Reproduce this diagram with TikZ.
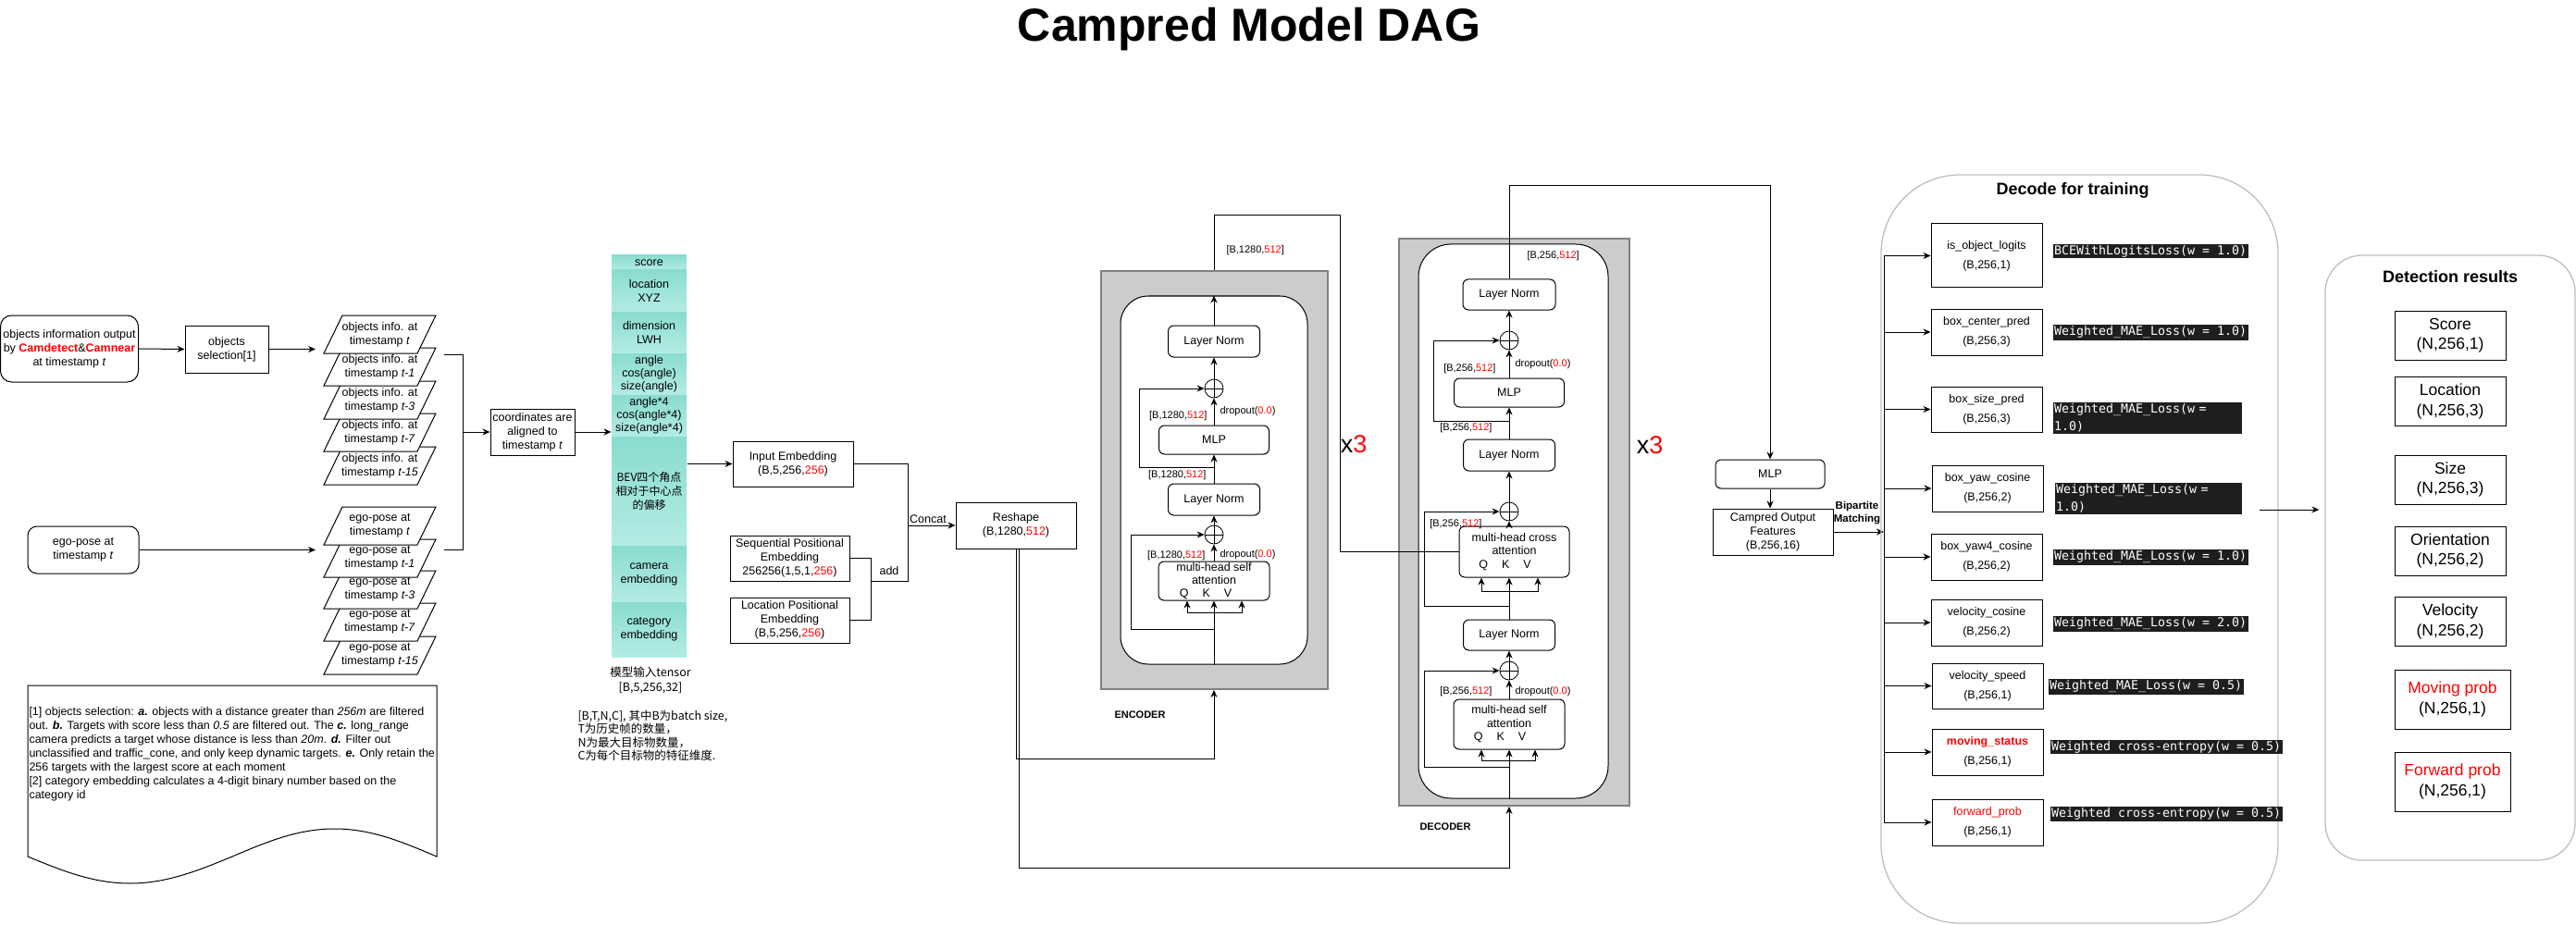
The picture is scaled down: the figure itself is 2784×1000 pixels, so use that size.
\documentclass[tikz,border=0pt]{standalone}
\usepackage{fontspec}
\setmainfont{Liberation Sans}
\newfontfamily\cjk{Noto Sans CJK SC}
\newfontfamily\lossfont{DejaVu Sans Mono}
\usetikzlibrary{arrows.meta}
\definecolor{tealtop}{RGB}{137,220,207}
\definecolor{tealbot}{RGB}{180,236,228}
\definecolor{stackgray}{RGB}{204,204,204}
\definecolor{stackedge}{RGB}{128,128,128}
\definecolor{grpedge}{RGB}{190,190,190}
\definecolor{lossbg}{RGB}{30,30,30}
\definecolor{hot}{RGB}{255,0,0}
\newcommand\fsz[2]{\fontsize{#1}{#2}\selectfont}
\newcommand\redt[1]{{\color{hot}#1}}
\begin{document}
\begin{tikzpicture}[x=1pt,y=-1pt,font=\fsz{12.5}{15},inner sep=1pt,line width=1pt,
  >={Stealth[length=8pt,width=7pt]},
  box/.style={draw,align=center},
  rbox/.style={draw,align=center,rounded corners=6pt},
  para/.style={draw,fill=white},
  ptext/.style={align=center},
  cell/.style={align=center,inner sep=0pt,minimum width=81,top color=tealtop,bottom color=tealbot},
  lbl/.style={inner sep=0pt,font=\fsz{11}{13}},
  sumnode/.style={draw,circle,minimum size=20,inner sep=0pt,fill=white,line width=0.8pt,
    path picture={\draw (path picture bounding box.north) -- (path picture bounding box.south)
      (path picture bounding box.west) -- (path picture bounding box.east);}},
  stackbg/.style={draw=stackedge,fill=stackgray,line width=1.8pt},
  stackbody/.style={draw,fill=white},
  grp/.style={draw=grpedge,line width=1.3pt},
  dbox/.style={draw,align=center,minimum width=120,font=\fsz{12.5}{21}},
  loss/.style={anchor=west,fill=lossbg,text=white,inner sep=1.5pt,font=\lossfont\fsz{13.3}{19}},
  res/.style={draw,align=center,minimum width=120,minimum height=53,font=\fsz{17.5}{21.5}}]
\useasboundingbox (0,0) rectangle (2784,1000);
\node (title) at (1350,32) [font=\bfseries\fsz{50}{56}] {Campred Model DAG};
\node (objinfo) at (75,377) [rbox,rounded corners=12pt,minimum width=149,minimum height=72] {objects information output\\by \textbf{\redt{Camdetect}}\&\textbf{\redt{Camnear}}\\at timestamp \textit{t}};
\node (objsel) at (245,377.5) [box,minimum width=90,minimum height=51] {objects\\selection[1]};
\node (egopose) at (90,594.5) [rbox,rounded corners=10pt,minimum width=120,minimum height=51] {ego-pose at\\timestamp \textit{t}};
\draw [para] (350,524) -- (370,483) -- (471,483) -- (451,524) -- cycle;
\node (obj15) at (410.5,503.5) [ptext] {objects info. at\\timestamp \textit{t-15}};
\draw [para] (350,488) -- (370,447) -- (471,447) -- (451,488) -- cycle;
\node (obj7) at (410.5,467.5) [ptext] {objects info. at\\timestamp \textit{t-7}};
\draw [para] (350,453) -- (370,412) -- (471,412) -- (451,453) -- cycle;
\node (obj3) at (410.5,432.5) [ptext] {objects info. at\\timestamp \textit{t-3}};
\draw [para] (350,417) -- (370,376) -- (471,376) -- (451,417) -- cycle;
\node (obj1) at (410.5,396.5) [ptext] {objects info. at\\timestamp \textit{t-1}};
\draw [para] (350,382) -- (370,341) -- (471,341) -- (451,382) -- cycle;
\node (obj0) at (410.5,361.5) [ptext] {objects info. at\\timestamp \textit{t}};
\draw [para] (350,729) -- (370,688) -- (471,688) -- (451,729) -- cycle;
\node (ego15) at (410.5,708.5) [ptext] {ego-pose at\\timestamp \textit{t-15}};
\draw [para] (350,693) -- (370,652) -- (471,652) -- (451,693) -- cycle;
\node (ego7) at (410.5,672.5) [ptext] {ego-pose at\\timestamp \textit{t-7}};
\draw [para] (350,658) -- (370,617) -- (471,617) -- (451,658) -- cycle;
\node (ego3) at (410.5,637.5) [ptext] {ego-pose at\\timestamp \textit{t-3}};
\draw [para] (350,624) -- (370,583) -- (471,583) -- (451,624) -- cycle;
\node (ego1) at (410.5,603.5) [ptext] {ego-pose at\\timestamp \textit{t-1}};
\draw [para] (350,589) -- (370,548) -- (471,548) -- (451,589) -- cycle;
\node (ego0) at (410.5,568.5) [ptext] {ego-pose at\\timestamp \textit{t}};
\coordinate (objin) at (341,377.5);
\coordinate (egoin) at (341,594.5);
\coordinate (objbr) at (480,383);
\coordinate (egobr) at (480,594);
\coordinate (brbot) at (500,594);
\draw [->] (objinfo.east) -- (objsel.west);
\draw [->] (objsel.east) -- (objin);
\draw [->] (egopose.east) -- (egoin);
\node (align) at (575.5,467) [box,minimum width=91,minimum height=50] {coordinates are\\aligned to\\timestamp \textit{t}};
\draw (objbr) -| (brbot) -- (egobr);
\draw [->] (brbot |- align.west) -- (align.west);
\node (tscore) at (701.5,284) [cell,minimum height=16] {score};
\node (tloc) at (701.5,314.5) [cell,minimum height=45] {location\\XYZ};
\node (tdim) at (701.5,359.5) [cell,minimum height=45] {dimension\\LWH};
\node (tang) at (701.5,404.5) [cell,minimum height=45,font=\fsz{12.5}{14}] {angle\\cos(angle)\\size(angle)};
\node (tang4) at (701.5,449.5) [cell,minimum height=45,font=\fsz{12.5}{14}] {angle*4\\cos(angle*4)\\size(angle*4)};
\node (tbev) at (701.5,531) [cell,minimum height=118,font=\cjk\fsz{12}{15}] {BEV四个角点\\相对于中心点\\的偏移};
\node (tcam) at (701.5,620.5) [cell,minimum height=61] {camera\\embedding};
\node (tcat) at (701.5,680.5) [cell,minimum height=59] {category\\embedding};
\node (tlabel) at (703,735) [align=center,font=\cjk\fsz{12.5}{16}] {模型输入tensor\\{[B,5,256,32]}};
\node (cnote) at (623,795.5) [anchor=west,align=left,font=\cjk\fsz{12.5}{14.5}] {[B,T,N,C], 其中B为batch size,\\T为历史帧的数量，\\N为最大目标物数量，\\C为每个目标物的特征维度.};
\draw [->] (align.east) -- (align.east -| tang4.west);
\draw (30,741) -- (472,741) -- (472,926) sin (361.5,896) cos (251,926) sin (140.5,955) cos (30,926) -- cycle;
\node (note) at (31,764) [anchor=north west,align=left,inner sep=0pt] {[1] objects selection: \textbf{\textit{a.}} objects with a distance greater than \textit{256m} are filtered\\out. \textbf{\textit{b.}} Targets with score less than \textit{0.5} are filtered out. The \textbf{\textit{c.}} long\_range\\camera predicts a target whose distance is less than \textit{20m}. \textbf{\textit{d.}} Filter out\\unclassified and traffic\_cone, and only keep dynamic targets. \textbf{\textit{e.}} Only retain the\\256 targets with the largest score at each moment\\{}[2] category embedding calculates a 4-digit binary number based on the\\category id};
\node (inemb) at (857,501.5) [box,minimum width=130,minimum height=49] {Input Embedding\\(B,5,256,\redt{256})};
\node (seqemb) at (853.5,603.5) [box,minimum width=129,minimum height=49] {Sequential Positional\\Embedding\\256256(1,5,1,\redt{256})};
\node (locemb) at (853.5,670.5) [box,minimum width=129,minimum height=49] {Location Positional\\Embedding\\(B,5,256,\redt{256})};
\node (reshape) at (1098,568) [box,minimum width=130,minimum height=50] {Reshape\\(B,1280,\redt{512})};
\coordinate (addj) at (941,628);
\coordinate (catj) at (981,628);
\draw [->] (inemb.west -| tbev.east) -- (inemb.west);
\draw (inemb.east) -| (catj) -- (addj);
\draw (seqemb.east) -| (addj) |- (locemb.east);
\draw [->] (catj |- reshape.west) -- (reshape.west);
\node (concat) at (1003,561) [inner sep=0pt] {Concat};
\node (add) at (961,617) [inner sep=0pt] {add};
\node (enc) at (1312.5,519) [stackbg,minimum width=245,minimum height=452] {};
\node (encbody) at (1312,519) [stackbody,rounded corners=30pt,minimum width=202,minimum height=398] {};
\node (eln2) at (1312,369) [rbox,minimum width=99,minimum height=34] {Layer Norm};
\node (eplus2) at (1312,420) [sumnode] {};
\node (emlp) at (1312,475.5) [rbox,minimum width=119,minimum height=31] {MLP};
\node (eln1) at (1312,540) [rbox,minimum width=99,minimum height=34] {Layer Norm};
\node (eplus1) at (1312,578) [sumnode] {};
\node (emhsa) at (1312,628) [rbox,minimum width=120,minimum height=42,font=\fsz{12.5}{14}] {multi-head self\\attention\\Q\hspace{15pt}K\hspace{15pt}V\hspace*{18pt}};
\node (enclbl) at (1232,773) [font=\bfseries\fsz{11}{13}] {ENCODER};
\node (encx) at (1463,480) [font=\fsz{27}{30}] {x\redt{3}};
\node (elbl1) at (1325,271) [lbl,anchor=west] {[B,1280,\redt{512}]};
\node (elbl2) at (1305,450) [lbl,anchor=east] {[B,1280,\redt{512}]};
\node (elbl3) at (1318,445) [lbl,anchor=west] {dropout(\redt{0.0})};
\node (elbl4) at (1304,514) [lbl,anchor=east] {[B,1280,\redt{512}]};
\node (elbl5) at (1303,601) [lbl,anchor=east] {[B,1280,\redt{512}]};
\node (elbl6) at (1318,600) [lbl,anchor=west] {dropout(\redt{0.0})};
\coordinate (encin) at (1312,820);
\coordinate (eq) at (1283,662);
\coordinate (ev) at (1342,662);
\coordinate (ej1) at (1312,680);
\coordinate (ej2) at (1312,505);
\coordinate (etop) at (1448,233);
\draw [->] (reshape.south) |- (encin) -- (encin |- enc.south);
\draw [->] (encin |- encbody.south) -- (encin |- emhsa.south);
\draw [->] (eq) -- (eq |- emhsa.south);
\draw [->] (eq) -- (ev) -- (ev |- emhsa.south);
\draw [->] (ej1) -- ++(-90,0) |- (eplus1.west);
\draw [->] (emhsa.north) -- (eplus1.south);
\draw [->] (eplus1.north) -- (eln1.south);
\draw [->] (eln1.north) -- (emlp.south);
\draw [->] (ej2) -- ++(-81,0) |- (eplus2.west);
\draw [->] (emlp.north) -- (eplus2.south);
\draw [->] (eplus2.north) -- (eln2.south);
\draw [->] (eln2.north) -- (eln2.north |- encbody.north);
\node (dec) at (1636.5,564.5) [stackbg,minimum width=249,minimum height=613] {};
\node (decbody) at (1635.5,563.5) [stackbody,rounded corners=35pt,minimum width=205,minimum height=599] {};
\node (dln3) at (1631,318.5) [rbox,minimum width=100,minimum height=33] {Layer Norm};
\node (dplus3) at (1631,368) [sumnode] {};
\node (dmlp) at (1631,424.5) [rbox,minimum width=119,minimum height=31] {MLP};
\node (dln2) at (1631,492) [rbox,minimum width=99,minimum height=34] {Layer Norm};
\node (dplus2) at (1631,553) [sumnode] {};
\node (dcross) at (1636.5,596.5) [rbox,minimum width=119,minimum height=55,font=\fsz{12.5}{14.5}] {multi-head cross\\attention\\Q\hspace{15pt}K\hspace{15pt}V\hspace*{20pt}};
\node (dln1) at (1631,686.5) [rbox,minimum width=99,minimum height=33] {Layer Norm};
\node (dplus1) at (1631,725) [sumnode] {};
\node (dmsa) at (1631,783) [rbox,minimum width=120,minimum height=54,font=\fsz{12.5}{14.5}] {multi-head self\\attention\\Q\hspace{15pt}K\hspace{15pt}V\hspace*{20pt}};
\node (declbl) at (1562,894) [font=\bfseries\fsz{11}{13}] {DECODER};
\node (decx) at (1783,481) [font=\fsz{27}{30}] {x\redt{3}};
\node (dlbl1) at (1650,277) [lbl,anchor=west] {[B,256,\redt{512}]};
\node (dlbl2) at (1617,399) [lbl,anchor=east] {[B,256,\redt{512}]};
\node (dlbl3) at (1637,394) [lbl,anchor=west] {dropout(\redt{0.0})};
\node (dlbl4) at (1613,463) [lbl,anchor=east] {[B,256,\redt{512}]};
\node (dlbl5) at (1602,567) [lbl,anchor=east] {[B,256,\redt{512}]};
\node (dlbl6) at (1613,748) [lbl,anchor=east] {[B,256,\redt{512}]};
\node (dlbl7) at (1637,748) [lbl,anchor=west] {dropout(\redt{0.0})};
\coordinate (decin) at (1631,938);
\coordinate (dq1) at (1601,822);
\coordinate (dv1) at (1659,822);
\coordinate (dj1) at (1631,829);
\coordinate (dq2) at (1601,639);
\coordinate (dv2) at (1662,639);
\coordinate (dj2) at (1631,655);
\coordinate (dj3) at (1631,455);
\coordinate (dtop) at (1913,201);
\draw [->] ([xshift=3pt]reshape.south) |- (decin) -- (decin |- dec.south);
\draw [->] (decin |- decbody.south) -- (decin |- dmsa.south);
\draw [->] (dq1) -- (dq1 |- dmsa.south);
\draw [->] (dq1) -- (dv1) -- (dv1 |- dmsa.south);
\draw [->] (dj1) -- ++(-92,0) |- (dplus1.west);
\draw [->] (dmsa.north) -- (dplus1.south);
\draw [->] (dplus1.north) -- (dln1.south);
\draw [->] (dln1.north) -- (dln1.north |- dcross.south);
\draw [->] (dq2) -- (dq2 |- dcross.south);
\draw [->] (dq2) -- (dv2) -- (dv2 |- dcross.south);
\draw [->] (dj2) -- ++(-92,0) |- (dplus2.west);
\draw [->] (dplus2 |- dcross.north) -- (dplus2.south);
\draw [->] (dplus2.north) -- (dln2.south);
\draw [->] (dln2.north) -- (dmlp.south);
\draw [->] (dj3) -- ++(-82,0) |- (dplus3.west);
\draw [->] (dmlp.north) -- (dplus3.south);
\draw [->] (dplus3.north) -- (dln3.south);
\draw (enc.north) |- (etop) |- (dcross.west);
\node (cmlp) at (1913,512.5) [rbox,minimum width=118,minimum height=31] {MLP};
\node (campout) at (1916,575) [box,minimum width=130,minimum height=50] {Campred Output\\Features\\(B,256,16)};
\node (bip) at (2007,554.5) [align=center,inner sep=0pt,font=\bfseries\fsz{11.5}{14}] {Bipartite\\Matching};
\coordinate (brx) at (2036,576);
\draw [->] (dln3.north) |- (dtop) -- (cmlp.north);
\draw [->] (cmlp.south) -- (cmlp.south |- campout.north);
\draw [->] (campout.east) -- (campout.east -| brx);
\node (dectrain) at (2247.5,593.5) [grp,rounded corners=85pt,minimum width=429,minimum height=809] {};
\node (dectitle) at (2240,206) [font=\bfseries\fsz{18}{20}] {Decode for training};
\node (isobj) at (2147,276.5) [dbox,minimum height=69] {is\_object\_logits\\(B,256,1)};
\node (boxc) at (2147,359) [dbox,minimum height=50] {box\_center\_pred\\(B,256,3)};
\node (boxs) at (2147,442.5) [dbox,minimum height=49] {box\_size\_pred\\(B,256,3)};
\node (yaw) at (2148,528) [dbox,minimum height=50] {box\_yaw\_cosine\\(B,256,2)};
\node (yaw4) at (2147,602) [dbox,minimum height=50] {box\_yaw4\_cosine\\(B,256,2)};
\node (velc) at (2147,673) [dbox,minimum height=50] {velocity\_cosine\\(B,256,2)};
\node (vels) at (2148,741.5) [dbox,minimum height=49] {velocity\_speed\\(B,256,1)};
\node (mov) at (2148,813) [dbox,minimum height=50] {\textbf{\redt{moving\_status}}\\(B,256,1)};
\node (fwd) at (2148,889) [dbox,minimum height=50] {\redt{forward\_prob}\\(B,256,1)};
\draw (isobj.west -| brx) -- (fwd.west -| brx);
\draw [->] (isobj.west -| brx) -- (isobj.west);
\draw [->] (boxc.west -| brx) -- (boxc.west);
\draw [->] (boxs.west -| brx) -- (boxs.west);
\draw [->] (yaw.west -| brx) -- (yaw.west);
\draw [->] (yaw4.west -| brx) -- (yaw4.west);
\draw [->] (velc.west -| brx) -- (velc.west);
\draw [->] (vels.west -| brx) -- (vels.west);
\draw [->] (mov.west -| brx) -- (mov.west);
\draw [->] (fwd.west -| brx) -- (fwd.west);
\node (loss1) at (2218,271.5) [loss] {BCEWithLogitsLoss(w = 1.0)};
\node (loss2) at (2218,359.5) [loss] {Weighted\_MAE\_Loss(w = 1.0)};
\node (loss3) at (2218,452) [loss,text width=201,align=left] {Weighted\_MAE\_Loss(w =\\1.0)};
\node (loss4) at (2220,539) [loss,text width=199,align=left] {Weighted\_MAE\_Loss(w =\\1.0)};
\node (loss5) at (2218,602.5) [loss] {Weighted\_MAE\_Loss(w = 1.0)};
\node (loss6) at (2218,674.5) [loss] {Weighted\_MAE\_Loss(w = 2.0)};
\node (loss7) at (2213,742.5) [loss] {Weighted\_MAE\_Loss(w = 0.5)};
\node (loss8) at (2215,807.5) [loss] {Weighted cross-entropy(w = 0.5)};
\node (loss9) at (2215,880) [loss] {Weighted cross-entropy(w = 0.5)};
\node (detbox) at (2648,603) [grp,rounded corners=40pt,minimum width=270,minimum height=654] {};
\node (dettitle) at (2648,299) [font=\bfseries\fsz{18}{20}] {Detection results};
\coordinate (decout) at (2442,551);
\draw [->,shorten >=6pt] (decout) -- (decout -| detbox.west);
\node (rscore) at (2648,362.5) [res] {Score\\(N,256,1)};
\node (rloc) at (2648,434) [res] {Location\\(N,256,3)};
\node (rsize) at (2648,518.5) [res] {Size\\(N,256,3)};
\node (rorient) at (2648,595.5) [res] {Orientation\\(N,256,2)};
\node (rvel) at (2648,672) [res] {Velocity\\(N,256,2)};
\node (rmov) at (2650.5,756) [res,minimum width=125,minimum height=64] {\redt{Moving prob}\\(N,256,1)};
\node (rfwd) at (2650.5,845) [res,minimum width=125,minimum height=64] {\redt{Forward prob}\\(N,256,1)};
\end{tikzpicture}
\end{document}
